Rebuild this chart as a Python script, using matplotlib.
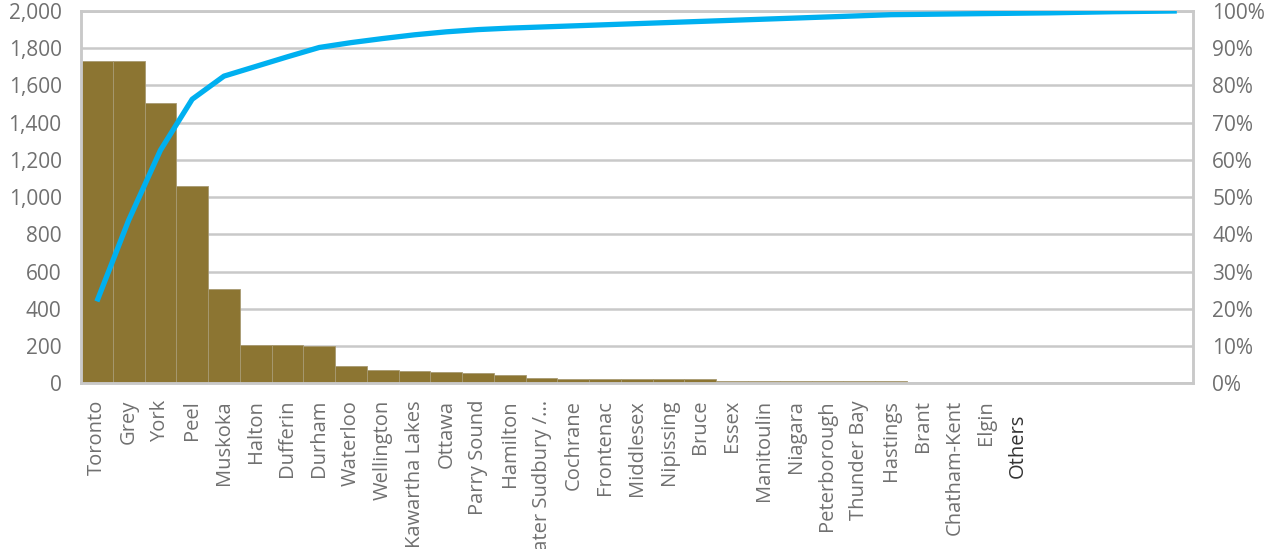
import matplotlib
matplotlib.use("Agg")
import matplotlib.pyplot as plt
from matplotlib.ticker import FuncFormatter, MultipleLocator
from matplotlib.transforms import ScaledTranslation

plt.rcParams['font.family'] = ['Open Sans', 'DejaVu Sans']

# --- data ---
regions = ['Toronto', 'Grey', 'York', 'Peel', 'Muskoka', 'Halton', 'Dufferin',
           'Durham', 'Waterloo', 'Wellington', 'Kawartha Lakes', 'Ottawa',
           'Parry Sound', 'Hamilton', 'Greater Sudbury /...', 'Cochrane',
           'Frontenac', 'Middlesex', 'Nipissing', 'Bruce', 'Essex', 'Manitoulin',
           'Niagara', 'Peterborough', 'Thunder Bay', 'Hastings', 'Brant',
           'Chatham-Kent', 'Elgin', 'Others', '', '', '', '', '']

counts = [1731, 1731, 1507, 1058, 508, 206, 206, 199, 95, 73, 67, 61,
          56, 43, 31, 25, 25, 25, 25, 21, 14, 14, 14, 14, 14, 14,
          0, 0, 0, 0, 0, 0, 0, 0, 0]

# cumulative share (line)
cum_pct = [22.0, 43.8, 62.6, 76.3, 82.5, 85.1, 87.7, 90.2, 91.5, 92.6, 93.6,
           94.4, 95.0, 95.4, 95.7, 96.0, 96.3, 96.6, 96.9, 97.2, 97.5, 97.8,
           98.1, 98.4, 98.7, 99.0, 99.1, 99.2, 99.3, 99.4, 99.5, 99.65,
           99.8, 99.9, 100.0]

label_color = '#707070'
grid_color = '#C9C9C9'

fig = plt.figure(figsize=(12.68, 5.49), dpi=100)
ax = fig.add_axes([0.0639, 0.3018, 0.8767, 0.6782])
x = list(range(len(regions)))

ax.bar(x, counts, width=1.0, color='#8C7532', edgecolor='#A89A72',
       linewidth=0.6, zorder=2)
ax.set_xlim(-0.5, len(regions) - 0.5)
ax.set_ylim(0, 2000)
ax.yaxis.set_major_locator(MultipleLocator(200))
ax.yaxis.set_major_formatter(FuncFormatter(lambda v, p: f'{int(v):,}'))
ax.grid(axis='y', color=grid_color, linewidth=1.8, zorder=0)
ax.set_axisbelow(True)

ax.set_xticks(x)
ax.set_xticklabels(regions, rotation=90, va='top', ha='center')
ax.tick_params(axis='x', length=0, pad=12, labelsize=14.5, labelcolor=label_color)
ax.tick_params(axis='y', length=0, pad=14, labelsize=15, labelcolor=label_color)

for s in ax.spines.values():
    s.set_color(grid_color)
    s.set_linewidth(1.8)

# "Others" label sits a bit lower and darker in the original
for lbl in ax.get_xticklabels():
    if lbl.get_text() == 'Others':
        lbl.set_color('#333333')
        lbl.set_transform(lbl.get_transform() +
                          ScaledTranslation(0, -10 / 72, fig.dpi_scale_trans))

ax2 = ax.twinx()
ax2.plot(x, [c / 100 for c in cum_pct], color='#00B0F0', linewidth=3.8,
         solid_capstyle='butt', solid_joinstyle='round', zorder=3)
ax2.set_ylim(0, 1)
ax2.yaxis.set_major_locator(MultipleLocator(0.1))
ax2.yaxis.set_major_formatter(FuncFormatter(lambda v, p: f'{v * 100:.0f}%'))
ax2.tick_params(axis='y', length=0, pad=14, labelsize=15, labelcolor=label_color)
for s in ax2.spines.values():
    s.set_color(grid_color)
    s.set_linewidth(1.8)

fig.savefig('out.png', dpi=100)
